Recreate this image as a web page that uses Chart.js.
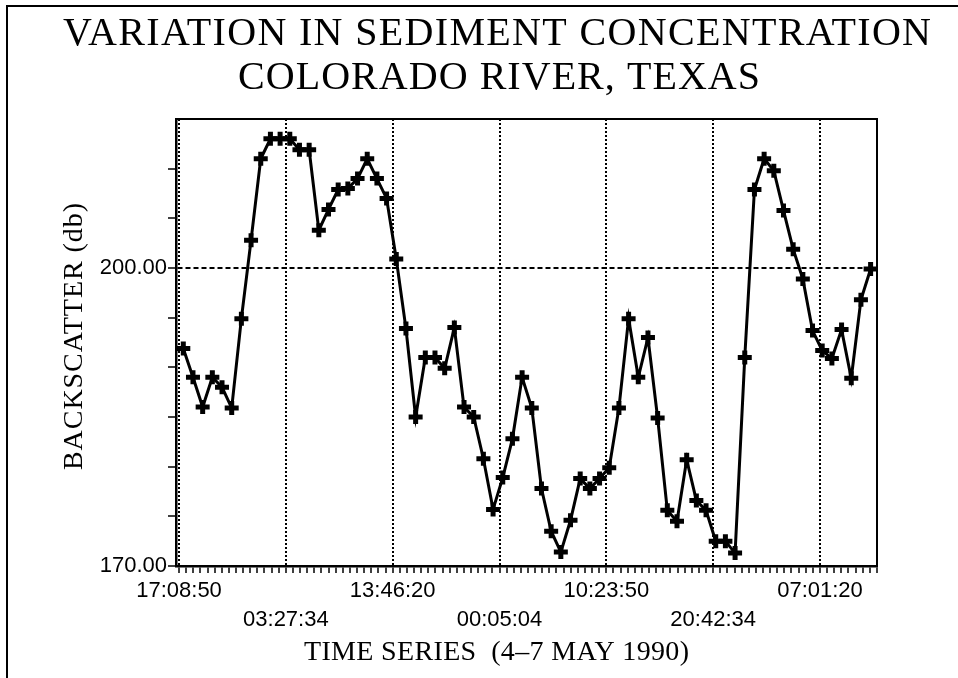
<!DOCTYPE html>
<html>
<head>
<meta charset="utf-8">
<title>Variation in sediment concentration</title>
<script src="https://cdn.jsdelivr.net/npm/chart.js@4.4.1/dist/chart.umd.min.js"></script>
<style>
    html, body { margin: 0; padding: 0; background: #fff; }
    canvas { display: block; }
</style>
</head>
<body>
<canvas id="myChart" width="958" height="678"></canvas>
<script>
// texts
const titleLines = ['VARIATION IN SEDIMENT CONCENTRATION', 'COLORADO RIVER, TEXAS']
const xTitle = 'TIME SERIES  (4\u20137 MAY 1990)'
const yTitle = 'BACKSCATTER (db)'

// x axis: labelled times (one every 10:18:44), in sample units
const timeLabels = ['17:08:50', '03:27:34', '13:46:20', '00:05:04', '10:23:50', '20:42:34', '07:01:20']
const firstLabelAt = -0.44
const samplesPerLabel = 11.035
const minorPerLabel = 15

// y axis
const yLabelled = [170, 200]

// backscatter (db), one value per sample
const backscatter = [
    191.9, 189.0, 186.0, 189.0, 188.0, 185.9, 194.9, 202.8, 211.0, 213.0,
    213.0, 213.0, 211.9, 211.9, 203.8, 205.9, 207.9, 208.0, 209.0, 211.0,
    209.0, 207.0, 200.9, 193.9, 185.0, 191.0, 191.0, 189.9, 194.0, 186.0,
    185.0, 180.8, 175.7, 178.9, 182.8, 189.0, 185.9, 177.8, 173.5, 171.4,
    174.6, 178.8, 177.8, 178.8, 179.9, 185.9, 194.9, 189.0, 193.0, 184.9,
    175.6, 174.5, 180.7, 176.6, 175.6, 172.5, 172.5, 171.3, 191.0, 207.9,
    211.0, 209.8, 205.8, 201.9, 198.9, 193.7, 191.7, 190.9, 193.8, 188.9,
    196.8, 199.9
]

const serif = '"Liberation Serif", "Times New Roman", serif'
const sans = '"Liberation Sans", Arial, sans-serif'

// draws text stretched to a given width (letter spacing if the canvas has it)
let drawSpread = (ctx, text, left, baseline, width) => {
    ctx.textAlign = 'left'
    ctx.textBaseline = 'alphabetic'
    if ('letterSpacing' in ctx) {
        ctx.letterSpacing = '0px'
        let w = ctx.measureText(text).width
        ctx.letterSpacing = ((width - w) / (text.length - 1)) + 'px'
        ctx.fillText(text, left, baseline)
        ctx.letterSpacing = '0px'
    } else {
        let w = ctx.measureText(text).width
        ctx.save()
        ctx.translate(left, baseline)
        ctx.scale(width / w, 1)
        ctx.fillText(text, 0, 0)
        ctx.restore()
    }
}

const decorPlugin = {
    id: 'decor',
    afterDraw: (chart) => {
        let ctx = chart.ctx
        let area = chart.chartArea
        ctx.save()
        // outer frame (top + left)
        ctx.strokeStyle = '#000'
        ctx.lineWidth = 2
        ctx.beginPath()
        ctx.moveTo(7, 678)
        ctx.lineTo(7, 6)
        ctx.lineTo(958, 6)
        ctx.stroke()
        // plot box
        ctx.lineWidth = 2
        ctx.strokeRect(area.left, area.top, area.right - area.left, area.bottom - area.top)

        ctx.fillStyle = '#000'
        ctx.font = '40px ' + serif
        drawSpread(ctx, titleLines[0], 63, 45, 868)
        drawSpread(ctx, titleLines[1], 238, 89, 522)

        ctx.font = '28px ' + serif
        drawSpread(ctx, xTitle, 304, 660, 385)

        ctx.translate(82, 337)
        ctx.rotate(-Math.PI / 2)
        drawSpread(ctx, yTitle, -133, 0, 267)
        ctx.restore()
    }
}

let OnBuildXTicks = (scale) => {
    let ticks = []
    let step = samplesPerLabel / minorPerLabel
    for (let v = firstLabelAt - step; v >= scale.min; v -= step) ticks.unshift({ value: v })
    timeLabels.forEach((t, k) => {
        let base = firstLabelAt + k * samplesPerLabel
        ticks.push({ value: base, major: true, label: t, row: k % 2 })
        let last = k === timeLabels.length - 1
        for (let j = 1; j < minorPerLabel; j++) {
            let v = base + j * step
            if (v > scale.max) break
            ticks.push({ value: v })
        }
        if (last) {
            let v = base + minorPerLabel * step
            while (v <= scale.max + 0.01) {
                ticks.push({ value: v })
                v += step
            }
        }
    })
    scale.ticks = ticks
}

let OnBuildYTicks = (scale) => {
    let ticks = []
    for (let v = 170; v <= 210; v += 5) ticks.push({ value: v })
    scale.ticks = ticks
}

const points = backscatter.map((v, i) => ({ x: i, y: v }))

const config = {
    type: 'line',
    data: {
        datasets: [{
            label: 'Backscatter',
            data: points,
            borderColor: '#000',
            backgroundColor: '#000',
            borderWidth: 3,
            tension: 0,
            pointStyle: 'cross',
            pointRadius: 7,
            pointBorderWidth: 5,
            pointHoverRadius: 7,
            clip: false
        }]
    },
    options: {
        responsive: false,
        animation: false,
        devicePixelRatio: 1,
        layout: { padding: { left: 100, right: 81, top: 119, bottom: 0 } },
        plugins: {
            legend: { display: false },
            title: { display: false },
            tooltip: { enabled: false }
        },
        scales: {
            x: {
                type: 'linear',
                min: -0.754,
                max: 71.66,
                afterBuildTicks: OnBuildXTicks,
                afterFit: (scale) => { scale.height = 112 },
                grid: {
                    color: (c) => (c.tick && c.tick.major) ? '#000' : 'rgba(0,0,0,0)',
                    lineWidth: 2,
                    tickColor: '#000',
                    tickLength: 7,
                    tickWidth: 1.5,
                    tickBorderDash: []
                },
                border: { display: true, color: '#000', width: 2.5, dash: [2, 2] },
                ticks: {
                    autoSkip: false,
                    maxRotation: 0,
                    minRotation: 0,
                    padding: 4,
                    color: '#000',
                    font: { family: sans, size: 22, lineHeight: 1.3 },
                    callback: (value, index, ticks) => {
                        let t = ticks[index]
                        if (!t || !t.major) return ''
                        return t.row === 0 ? t.label : ['', t.label]
                    }
                }
            },
            y: {
                type: 'linear',
                min: 170,
                max: 215,
                afterBuildTicks: OnBuildYTicks,
                afterFit: (scale) => { scale.width = 76 },
                grid: {
                    color: (c) => (c.tick && c.tick.value === 200) ? '#000' : 'rgba(0,0,0,0)',
                    lineWidth: 2,
                    tickColor: '#000',
                    tickLength: 8,
                    tickWidth: 1.5,
                    tickBorderDash: []
                },
                border: { display: true, color: '#000', width: 2.5, dash: [5, 3] },
                ticks: {
                    autoSkip: false,
                    padding: 1,
                    color: '#000',
                    font: { family: sans, size: 22 },
                    callback: (value) => yLabelled.includes(value) ? value.toFixed(2) : ''
                }
            }
        }
    },
    plugins: [decorPlugin]
}

const myChart = new Chart(document.getElementById('myChart'), config)
</script>
</body>
</html>
